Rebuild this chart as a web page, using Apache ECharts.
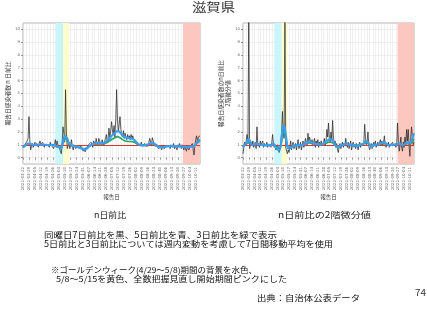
<!DOCTYPE html>
<html><head><meta charset="utf-8">
<script src="https://cdn.jsdelivr.net/npm/echarts@6/dist/echarts.min.js"></script>
<style>html,body{margin:0;padding:0;background:#fff}#c{width:427px;height:320px}</style>
</head><body><div id="c"></div>
<script>
// ---- data ----
var startDate = '2022-03-22';
var nDays = 209;
var yTicks = [0,1,2,3,4,5,6,7,8,9,10];
// left panel: n日前比
var leftBlack7 = [
0.75,0.9,1.0,0.85,1.1,1.3,1.5,
3.2,1.4,0.6,0.9,1.1,0.8,1.0,
1.2,0.9,1.1,1.0,0.8,1.1,1.3,
1.0,0.9,1.2,1.0,0.8,1.0,1.1,
0.9,1.0,1.1,0.8,1.2,1.0,0.9,
1.1,0.7,1.0,1.4,0.8,1.3,1.0,
1.0,0.7,0.5,0.3,1.2,2.4,1.9,
1.2,5.3,2.0,0.7,0.8,1.2,0.7,
1.0,1.4,0.8,0.6,1.0,1.1,0.7,
0.9,0.8,1.0,0.7,0.6,0.9,0.7,
0.6,0.5,0.7,0.45,0.6,0.8,0.9,
1.0,1.1,0.9,1.2,1.0,0.8,1.3,
1.2,1.0,1.5,1.1,0.9,1.5,1.3,
1.2,1.0,1.4,1.1,0.9,1.3,1.5,
1.8,1.2,1.5,2.3,1.6,2.0,2.8,
2.2,1.8,2.5,1.6,3.0,5.3,3.0,
2.0,2.6,3.2,2.2,1.8,1.6,2.1,
1.5,1.9,1.6,1.4,1.8,1.5,1.7,
1.4,1.8,1.5,1.7,1.4,1.3,1.5,
1.2,1.3,1.0,1.1,0.9,1.0,1.2,
0.9,1.0,0.8,1.1,0.9,1.0,0.85,
0.9,1.0,1.5,1.2,1.0,1.55,1.3,
1.1,0.9,1.0,0.8,0.9,0.7,0.8,
0.7,0.8,0.6,0.9,0.8,0.7,0.6,
0.8,0.9,1.0,0.8,0.9,0.7,1.0,
0.9,0.8,1.1,0.7,0.9,1.0,0.6,
1.0,0.8,1.1,0.9,0.7,1.0,0.9,
0.6,0.9,1.0,0.5,0.8,0.9,0.6,
0.8,0.7,0.9,1.1,0.6,0.2,1.0,
1.4,1.7,1.2,1.6,1.5,1.7];
var leftBlue5 = [
0.8,0.85,0.9,0.95,1.0,1.05,1.1,
1.15,1.1,1.05,1.0,1.0,0.98,1.0,
1.0,1.02,1.0,0.98,1.0,1.02,1.0,
1.0,0.98,1.0,1.0,0.97,0.98,1.0,
1.0,0.98,0.96,0.98,1.0,1.0,1.0,
1.0,0.98,1.0,0.95,0.9,0.9,0.85,
0.8,0.75,0.7,0.7,0.9,1.2,1.5,
1.7,1.85,1.75,1.5,1.3,1.1,1.0,
1.0,0.95,0.95,0.9,0.9,0.88,0.85,
0.85,0.82,0.8,0.78,0.75,0.72,0.7,
0.68,0.65,0.63,0.62,0.65,0.7,0.78,
0.85,0.9,0.95,1.0,1.02,1.05,1.08,
1.1,1.1,1.12,1.1,1.1,1.12,1.15,
1.15,1.12,1.12,1.15,1.15,1.18,1.2,
1.25,1.3,1.38,1.45,1.5,1.6,1.7,
1.75,1.8,1.85,1.9,1.95,2.05,2.1,
2.1,2.05,2.0,1.9,1.8,1.7,1.65,
1.6,1.58,1.55,1.55,1.52,1.5,1.5,
1.5,1.5,1.48,1.45,1.42,1.38,1.3,
1.22,1.15,1.08,1.02,1.0,0.97,0.95,
0.95,0.95,0.93,0.95,0.97,1.0,1.0,
1.02,1.05,1.1,1.12,1.15,1.18,1.15,
1.1,1.05,1.0,0.95,0.92,0.88,0.85,
0.83,0.82,0.8,0.8,0.82,0.82,0.85,
0.85,0.87,0.88,0.9,0.9,0.9,0.9,
0.9,0.9,0.92,0.9,0.9,0.88,0.88,
0.88,0.9,0.9,0.88,0.87,0.86,0.85,
0.85,0.84,0.85,0.83,0.82,0.83,0.84,
0.85,0.85,0.84,0.86,0.88,0.9,0.95,
1.05,1.15,1.25,1.3,1.35,1.4];
var leftGreen3 = [
0.85,0.9,0.92,0.95,1.0,1.02,1.05,
1.08,1.05,1.02,1.0,1.0,0.98,0.98,
1.0,1.0,1.0,0.98,0.99,1.0,1.0,
1.0,0.98,0.98,1.0,0.98,0.98,1.0,
1.0,0.98,0.97,0.98,1.0,1.0,1.0,
1.0,0.98,0.97,0.95,0.92,0.9,0.88,
0.85,0.82,0.8,0.8,0.9,1.1,1.3,
1.45,1.55,1.5,1.35,1.2,1.05,1.0,
0.98,0.95,0.95,0.92,0.9,0.88,0.87,
0.86,0.84,0.82,0.8,0.78,0.76,0.75,
0.73,0.7,0.68,0.68,0.7,0.74,0.8,
0.85,0.9,0.93,0.97,1.0,1.02,1.04,
1.05,1.05,1.06,1.05,1.05,1.06,1.08,
1.08,1.07,1.07,1.08,1.08,1.1,1.12,
1.15,1.18,1.22,1.27,1.3,1.35,1.4,
1.45,1.5,1.52,1.55,1.58,1.62,1.65,
1.65,1.6,1.55,1.5,1.45,1.4,1.35,
1.32,1.3,1.28,1.27,1.26,1.25,1.25,
1.25,1.25,1.24,1.23,1.22,1.2,1.15,
1.1,1.05,1.02,1.0,0.98,0.97,0.96,
0.96,0.96,0.95,0.96,0.97,0.98,1.0,
1.0,1.02,1.05,1.07,1.08,1.1,1.08,
1.05,1.02,0.98,0.95,0.92,0.9,0.88,
0.86,0.85,0.84,0.84,0.85,0.85,0.86,
0.87,0.88,0.9,0.9,0.91,0.91,0.92,
0.92,0.92,0.93,0.92,0.92,0.9,0.9,
0.9,0.9,0.9,0.9,0.89,0.88,0.88,
0.87,0.87,0.87,0.86,0.86,0.86,0.87,
0.87,0.87,0.88,0.88,0.9,0.92,0.96,
1.02,1.1,1.18,1.22,1.26,1.3];
// right panel: n日前比の2階微分値
var rightBlack7 = [
0.3,0.8,1.2,0.9,1.4,1.8,1.1,
11.0,0.7,0.6,1.2,0.9,1.3,0.8,
1.0,1.2,0.7,2.4,0.9,1.1,0.8,
1.3,1.0,0.9,1.3,0.8,1.1,1.0,
0.9,1.2,0.8,1.0,0.9,1.1,0.8,
1.2,1.8,1.1,0.8,1.0,0.6,0.5,
1.0,0.7,0.4,0.3,1.2,2.0,3.6,
2.0,1.5,11.0,0.8,0.5,0.3,0.6,
0.4,0.9,1.3,0.6,1.0,1.2,0.7,
0.8,1.1,0.6,1.0,1.4,0.7,0.9,
1.2,0.6,0.9,1.3,0.8,1.1,1.5,
1.2,1.0,1.9,1.3,1.6,1.7,1.1,
1.4,0.9,1.2,1.5,0.8,1.3,1.0,
1.4,0.8,1.2,0.9,1.3,1.0,0.9,
1.2,1.5,0.9,1.3,2.2,1.6,2.7,
1.5,1.2,2.0,1.4,2.9,1.6,1.0,
1.3,0.8,1.1,0.6,0.4,0.9,1.1,
0.7,1.0,1.2,0.8,1.1,0.9,1.5,
1.0,0.8,1.2,0.7,1.0,1.3,0.6,
0.9,1.2,0.8,1.0,0.7,1.1,0.9,
0.6,1.0,1.2,0.8,1.1,0.9,1.0,
1.2,2.6,1.5,1.0,1.3,2.0,0.9,
0.6,0.8,1.1,0.7,1.0,1.2,0.9,
1.3,0.8,1.0,1.2,0.9,1.1,1.4,
1.0,1.3,0.9,1.2,1.7,1.0,0.8,
1.1,0.9,1.2,0.8,1.0,1.1,0.9,
1.2,0.9,1.0,1.1,0.8,1.0,2.7,
1.2,0.5,0.9,1.6,0.8,0.5,1.2,
0.8,1.6,1.0,2.2,1.3,2.2,0.9,
0.1,1.5,2.4,2.5,1.0,1.2];
var rightBlue5 = [
0.8,0.9,1.0,1.0,1.1,1.2,1.3,
1.5,1.4,1.2,1.0,0.9,0.95,1.0,
1.0,1.05,1.1,1.1,1.05,1.0,0.95,
1.0,1.0,1.05,1.0,0.95,1.0,1.0,
0.95,0.95,1.0,1.0,1.0,0.95,0.95,
1.0,1.1,1.1,1.0,0.9,0.8,0.7,
0.65,0.6,0.55,0.6,0.9,1.5,2.2,
2.5,2.6,2.3,1.8,1.3,0.9,0.7,
0.6,0.65,0.75,0.85,0.9,0.95,0.95,
0.9,0.9,0.9,0.95,1.0,0.95,0.95,
0.95,0.95,1.0,1.0,1.0,1.05,1.1,
1.15,1.2,1.25,1.3,1.3,1.25,1.2,
1.15,1.1,1.1,1.1,1.05,1.05,1.05,
1.05,1.05,1.0,1.0,1.05,1.05,1.05,
1.1,1.15,1.2,1.25,1.3,1.35,1.4,
1.45,1.45,1.4,1.4,1.35,1.25,1.1,
1.0,0.9,0.85,0.8,0.8,0.85,0.9,
0.95,1.0,1.0,1.0,1.05,1.1,1.1,
1.05,1.0,1.0,0.95,0.95,1.0,0.95,
0.95,0.95,0.95,0.9,0.9,0.95,0.95,
0.9,0.95,1.0,1.0,1.0,1.0,1.05,
1.1,1.2,1.3,1.3,1.25,1.2,1.1,
1.0,0.9,0.85,0.85,0.9,0.95,1.0,
1.0,1.0,1.0,1.05,1.05,1.05,1.1,
1.1,1.15,1.15,1.2,1.2,1.15,1.1,
1.05,1.0,1.0,0.95,0.95,1.0,1.0,
1.0,1.0,1.0,1.0,0.95,1.0,1.1,
1.15,1.1,1.0,1.05,1.0,0.9,0.95,
1.0,1.05,1.1,1.2,1.25,1.2,1.1,
1.0,1.1,1.3,1.5,1.7,1.9];
var rightGreen3 = [
0.9,0.95,1.0,1.0,1.05,1.1,1.15,
1.25,1.2,1.1,1.0,0.95,0.98,1.0,
1.0,1.02,1.05,1.05,1.02,1.0,0.98,
1.0,1.0,1.02,1.0,0.98,1.0,1.0,
0.98,0.98,1.0,1.0,1.0,0.98,0.98,
1.0,1.05,1.05,1.0,0.95,0.88,0.82,
0.78,0.75,0.72,0.75,0.95,1.3,1.8,
2.1,2.2,2.0,1.6,1.2,0.9,0.78,
0.72,0.75,0.82,0.9,0.92,0.95,0.95,
0.95,0.95,0.95,0.97,1.0,0.98,0.98,
0.98,0.98,1.0,1.0,1.0,1.02,1.05,
1.08,1.1,1.12,1.15,1.15,1.12,1.1,
1.08,1.05,1.05,1.05,1.02,1.02,1.02,
1.02,1.02,1.0,1.0,1.02,1.02,1.02,
1.05,1.08,1.1,1.12,1.15,1.18,1.2,
1.22,1.22,1.2,1.2,1.18,1.12,1.05,
1.0,0.95,0.92,0.9,0.9,0.92,0.95,
0.97,1.0,1.0,1.0,1.02,1.05,1.05,
1.02,1.0,1.0,0.98,0.98,1.0,0.98,
0.98,0.98,0.98,0.95,0.95,0.98,0.98,
0.95,0.98,1.0,1.0,1.0,1.0,1.02,
1.05,1.1,1.15,1.15,1.12,1.1,1.05,
1.0,0.95,0.92,0.92,0.95,0.98,1.0,
1.0,1.0,1.0,1.02,1.02,1.02,1.05,
1.05,1.08,1.08,1.1,1.1,1.08,1.05,
1.02,1.0,1.0,0.98,0.98,1.0,1.0,
1.0,1.0,1.0,1.0,0.98,1.0,1.05,
1.08,1.05,1.0,1.02,1.0,0.95,0.98,
1.0,1.02,1.05,1.1,1.12,1.1,1.05,
1.0,1.05,1.15,1.25,1.35,1.45];
var bands = [
  {from:'2022-04-29', to:'2022-05-08', color:'#c8f6fb'},
  {from:'2022-05-08', to:'2022-05-15', color:'#fdfccd'},
  {from:'2022-09-26', to:'2022-10-16', color:'#fcc7be'}
];
var texts = [
  {text:'滋賀県', left:192, cy:7.5, size:12, w:43, fill:'#333'},
  {text:'n日前比', left:94, cy:215, size:8.5, w:32, fill:'#222'},
  {text:'n日前比の2階微分値', left:278, cy:215, size:8.5, w:93, fill:'#222'},
  {text:'同曜日7日前比を黒、5日前比を青、3日前比を緑で表示', left:44, cy:235, size:8.5, w:233, fill:'#111'},
  {text:'5日前比と3日前比については週内変動を考慮して7日間移動平均を使用', left:44, cy:243.5, size:8.5, w:289, fill:'#111'},
  {text:'※ゴールデンウィーク(4/29～5/8)期間の背景を水色、', left:51, cy:270, size:8, w:206, fill:'#111'},
  {text:'5/8～5/15を黄色、全数把握見直し開始期間ピンクにした', left:56, cy:279.3, size:8, w:231, fill:'#111'},
  {text:'出典：自治体公表データ', left:257, cy:298.3, size:8, w:103, fill:'#111'},
  {text:'74', left:415, cy:293, size:9, w:11, fill:'#333'}
];
// ---- build categories ----
var dates = [];
(function(){
  var d = new Date(startDate + 'T00:00:00Z');
  for (var i = 0; i < nDays; i++) {
    var t = new Date(d.getTime() + i*86400000);
    var m = String(t.getUTCMonth()+1).padStart(2,'0');
    var dd = String(t.getUTCDate()).padStart(2,'0');
    dates.push(t.getUTCFullYear() + '-' + m + '-' + dd);
  }
})();

var FONT = '"Noto Sans CJK JP","Noto Sans",sans-serif';
var mctx = document.createElement('canvas').getContext('2d');
function measure(t, size){ mctx.font = size + 'px ' + FONT; return mctx.measureText(t).width; }
var graphics = texts.map(function(o){
  var s = o.w / measure(o.text, o.size);
  return {type:'text', x:o.left, y:o.cy, scaleX:s, scaleY:1, silent:true,
    style:{text:o.text, fontSize:o.size, fontFamily:FONT, fill:o.fill, align:'left', verticalAlign:'middle'}};
});

var chart = echarts.init(document.getElementById('c'), null, {renderer:'canvas'});

function xAxisFor(gi){
  return {
    type:'category', gridIndex:gi, data:dates, boundaryGap:false,
    name:'報告日', nameLocation:'middle', nameGap:25,
    nameTextStyle:{fontSize:5.5, color:'#333', fontFamily:FONT},
    axisLine:{show:false},
    axisTick:{show:true, interval:6, length:2, lineStyle:{color:'#555', width:0.6}},
    axisLabel:{interval:6, rotate:90, fontSize:4, color:'#666', margin:3, fontFamily:'DejaVu Sans'},
    splitLine:{show:true, interval:function(i){return i%7===0 || i%7===4;}, lineStyle:{color:'#e6e6e6', width:0.6}}
  };
}
function yAxisFor(gi, name, gap){
  return {
    type:'value', gridIndex:gi, min:-0.5, max:10.5, interval:0.5,
    name:name, nameLocation:'middle', nameRotate:90, nameGap:gap,
    nameTextStyle:{fontSize:5.8, color:'#333', fontFamily:FONT, lineHeight:6.5},
    axisLine:{show:false},
    axisTick:{show:true, length:2, customValues:yTicks, lineStyle:{color:'#555', width:0.6}},
    axisLabel:{fontSize:3.8, color:'#666', margin:3, customValues:yTicks, fontFamily:'DejaVu Sans'},
    splitLine:{show:true, lineStyle:{color:'#e6e6e6', width:0.6}}
  };
}
function markAreaData(){
  return bands.map(function(b){
    return [{xAxis:b.from, itemStyle:{color:b.color}}, {xAxis:b.to}];
  });
}
function seriesFor(gi, blk, grn, blu){
  return [
    {type:'line', xAxisIndex:gi, yAxisIndex:gi, data:blk, showSymbol:false, silent:true,
     lineStyle:{color:'#2a2a2a', width:0.9, opacity:0.85}, z:3,
     markArea:{silent:true, data:markAreaData()}},
    {type:'line', xAxisIndex:gi, yAxisIndex:gi, data:grn, showSymbol:false, silent:true,
     lineStyle:{color:'#27a35a', width:1.6}, z:4},
    {type:'line', xAxisIndex:gi, yAxisIndex:gi, data:blu, showSymbol:false, silent:true,
     lineStyle:{color:'#3a9ff2', width:2.2}, z:5,
     markLine:{silent:true, symbol:'none', label:{show:false},
       lineStyle:{color:'#e2322b', width:1.2, type:'solid'}, data:[{yAxis:1}]}}
  ];
}

var option = {
  animation:false,
  backgroundColor:'#ffffff',
  textStyle:{fontFamily:FONT},
  graphic: graphics,
  grid:[
    {left:23, top:23, width:177, height:141, show:true, borderColor:'#a0a0a0', borderWidth:0.8, backgroundColor:'transparent'},
    {left:243, top:23, width:171, height:141, show:true, borderColor:'#a0a0a0', borderWidth:0.8, backgroundColor:'transparent'}
  ],
  xAxis:[xAxisFor(0), xAxisFor(1)],
  yAxis:[yAxisFor(0,'報告日感染者数 n 日前比',11), yAxisFor(1,'報告日感染者数のn日前比\n2階微分値',12)],
  series: seriesFor(0, leftBlack7, leftGreen3, leftBlue5).concat(seriesFor(1, rightBlack7, rightGreen3, rightBlue5))
};
chart.setOption(option);
</script>
</body></html>
